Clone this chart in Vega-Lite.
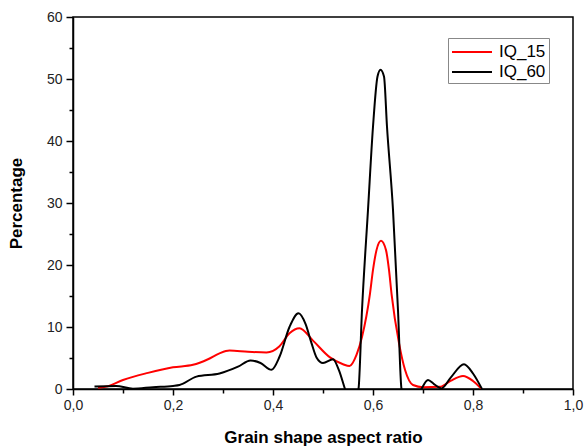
{
  "$schema": "https://vega.github.io/schema/vega-lite/v6.json",
  "autosize": "none",
  "width": 500,
  "height": 372,
  "padding": {"left": 73, "top": 17, "right": 12, "bottom": 57},
  "background": "white",
  "config": {
    "font": "Liberation Sans",
    "view": {"stroke": "black", "strokeWidth": 1.5},
    "axis": {"grid": false, "domainColor": "black", "domainWidth": 1.5, "tickColor": "black", "tickWidth": 1.5, "labelColor": "#222", "titleColor": "black", "labelFontSize": 14, "titleFontSize": 17, "titleFontWeight": "bold", "labelFont": "Liberation Sans", "titleFont": "Liberation Sans"}
  },
  "data": {"values": [
    {"x": 0.05, "y": 0.2, "s": "IQ_15"},
    {"x": 0.07, "y": 0.45, "s": "IQ_15"},
    {"x": 0.1, "y": 1.45, "s": "IQ_15"},
    {"x": 0.15, "y": 2.6, "s": "IQ_15"},
    {"x": 0.2, "y": 3.5, "s": "IQ_15"},
    {"x": 0.24, "y": 3.9, "s": "IQ_15"},
    {"x": 0.27, "y": 4.8, "s": "IQ_15"},
    {"x": 0.293, "y": 5.75, "s": "IQ_15"},
    {"x": 0.313, "y": 6.2, "s": "IQ_15"},
    {"x": 0.35, "y": 6.0, "s": "IQ_15"},
    {"x": 0.387, "y": 5.9, "s": "IQ_15"},
    {"x": 0.413, "y": 6.9, "s": "IQ_15"},
    {"x": 0.433, "y": 9.0, "s": "IQ_15"},
    {"x": 0.453, "y": 9.8, "s": "IQ_15"},
    {"x": 0.48, "y": 7.8, "s": "IQ_15"},
    {"x": 0.514, "y": 5.1, "s": "IQ_15"},
    {"x": 0.54, "y": 4.0, "s": "IQ_15"},
    {"x": 0.553, "y": 3.7, "s": "IQ_15"},
    {"x": 0.567, "y": 5.5, "s": "IQ_15"},
    {"x": 0.578, "y": 8.4, "s": "IQ_15"},
    {"x": 0.594, "y": 15.4, "s": "IQ_15"},
    {"x": 0.6, "y": 19.2, "s": "IQ_15"},
    {"x": 0.607, "y": 22.4, "s": "IQ_15"},
    {"x": 0.616, "y": 23.9, "s": "IQ_15"},
    {"x": 0.626, "y": 22.4, "s": "IQ_15"},
    {"x": 0.632, "y": 19.2, "s": "IQ_15"},
    {"x": 0.637, "y": 15.4, "s": "IQ_15"},
    {"x": 0.652, "y": 7.4, "s": "IQ_15"},
    {"x": 0.664, "y": 3.1, "s": "IQ_15"},
    {"x": 0.68, "y": 0.65, "s": "IQ_15"},
    {"x": 0.7, "y": 0.3, "s": "IQ_15"},
    {"x": 0.734, "y": 0.35, "s": "IQ_15"},
    {"x": 0.755, "y": 1.3, "s": "IQ_15"},
    {"x": 0.78, "y": 2.1, "s": "IQ_15"},
    {"x": 0.8, "y": 1.3, "s": "IQ_15"},
    {"x": 0.817, "y": 0.0, "s": "IQ_15"},
    {"x": 0.043, "y": 0.4, "s": "IQ_60"},
    {"x": 0.086, "y": 0.5, "s": "IQ_60"},
    {"x": 0.12, "y": 0.05, "s": "IQ_60"},
    {"x": 0.16, "y": 0.3, "s": "IQ_60"},
    {"x": 0.2, "y": 0.5, "s": "IQ_60"},
    {"x": 0.213, "y": 0.65, "s": "IQ_60"},
    {"x": 0.247, "y": 2.0, "s": "IQ_60"},
    {"x": 0.293, "y": 2.5, "s": "IQ_60"},
    {"x": 0.33, "y": 3.6, "s": "IQ_60"},
    {"x": 0.355, "y": 4.6, "s": "IQ_60"},
    {"x": 0.375, "y": 4.2, "s": "IQ_60"},
    {"x": 0.397, "y": 3.1, "s": "IQ_60"},
    {"x": 0.413, "y": 5.2, "s": "IQ_60"},
    {"x": 0.433, "y": 10.0, "s": "IQ_60"},
    {"x": 0.451, "y": 12.2, "s": "IQ_60"},
    {"x": 0.465, "y": 10.5, "s": "IQ_60"},
    {"x": 0.477, "y": 7.4, "s": "IQ_60"},
    {"x": 0.487, "y": 5.1, "s": "IQ_60"},
    {"x": 0.5, "y": 4.2, "s": "IQ_60"},
    {"x": 0.52, "y": 4.8, "s": "IQ_60"},
    {"x": 0.532, "y": 3.0, "s": "IQ_60"},
    {"x": 0.544, "y": 0.0, "s": "IQ_60"},
    {"x": 0.558, "y": -3.0, "s": "IQ_60"},
    {"x": 0.571, "y": 0.0, "s": "IQ_60"},
    {"x": 0.578, "y": 12.7, "s": "IQ_60"},
    {"x": 0.59, "y": 28.9, "s": "IQ_60"},
    {"x": 0.6, "y": 42.3, "s": "IQ_60"},
    {"x": 0.609, "y": 50.4, "s": "IQ_60"},
    {"x": 0.615, "y": 51.5, "s": "IQ_60"},
    {"x": 0.622, "y": 50.4, "s": "IQ_60"},
    {"x": 0.628, "y": 42.3, "s": "IQ_60"},
    {"x": 0.64, "y": 28.9, "s": "IQ_60"},
    {"x": 0.65, "y": 12.7, "s": "IQ_60"},
    {"x": 0.657, "y": 0.0, "s": "IQ_60"},
    {"x": 0.677, "y": -4.0, "s": "IQ_60"},
    {"x": 0.697, "y": 0.0, "s": "IQ_60"},
    {"x": 0.71, "y": 1.45, "s": "IQ_60"},
    {"x": 0.722, "y": 0.8, "s": "IQ_60"},
    {"x": 0.737, "y": 0.1, "s": "IQ_60"},
    {"x": 0.755, "y": 1.8, "s": "IQ_60"},
    {"x": 0.782, "y": 4.0, "s": "IQ_60"},
    {"x": 0.8, "y": 2.5, "s": "IQ_60"},
    {"x": 0.818, "y": 0.0, "s": "IQ_60"}
  ]},
  "mark": {"type": "line", "interpolate": "monotone", "strokeWidth": 2, "clip": true},
  "encoding": {
    "x": {"field": "x", "type": "quantitative",
      "scale": {"domain": [0, 1], "nice": false, "zero": false},
      "axis": {"title": "Grain shape aspect ratio", "values": [0, 0.1, 0.2, 0.3, 0.4, 0.5, 0.6, 0.7, 0.8, 0.9, 1.0],
        "labelExpr": "round(datum.value*10)%2==0 ? replace(format(datum.value,'.1f'),'.',',') : ''",
        "labelFlush": false, "labelOverlap": false, "labelPadding": 3,
        "tickSize": {"condition": {"test": "round(datum.value*10)%2==0", "value": 6}, "value": 4},
        "titlePadding": 17}},
    "y": {"field": "y", "type": "quantitative",
      "scale": {"domain": [0, 60], "nice": false},
      "axis": {"title": "Percentage", "values": [0, 5, 10, 15, 20, 25, 30, 35, 40, 45, 50, 55, 60],
        "labelExpr": "datum.value % 10 == 0 ? datum.label : ''",
        "labelFlush": false, "labelOverlap": false, "labelPadding": 4,
        "tickSize": {"condition": {"test": "datum.value % 10 == 0", "value": 7}, "value": 4},
        "titlePadding": 21}},
    "color": {"field": "s", "type": "nominal",
      "scale": {"domain": ["IQ_15", "IQ_60"], "range": ["#ff0000", "#000000"]},
      "legend": {"title": null, "orient": "none", "legendX": 375, "legendY": 21,
        "strokeColor": "#888", "fillColor": "white", "padding": 3,
        "symbolType": "M-2,0L2,0", "symbolSize": 400, "symbolStrokeWidth": 2, "symbolOffset": 10,
        "labelFontSize": 17, "labelColor": "black", "labelOffset": 16, "rowPadding": 1}}
  }
}
